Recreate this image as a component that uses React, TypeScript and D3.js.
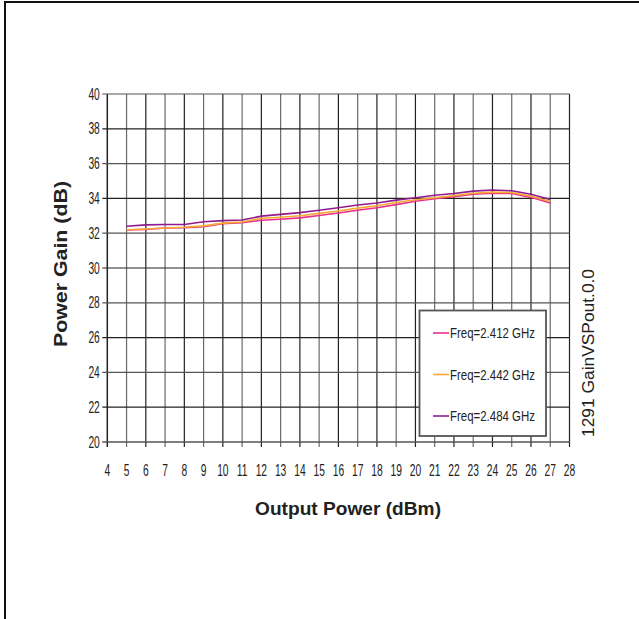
import React from "react";
import * as d3 from "d3";

const xValues = [5, 6, 7, 8, 9, 10, 11, 12, 13, 14, 15, 16, 17, 18, 19, 20, 21, 22, 23, 24, 25, 26, 27];
const gain2412 = [32.18, 32.22, 32.3, 32.32, 32.38, 32.55, 32.6, 32.74, 32.8, 32.88, 33.02, 33.16, 33.32, 33.46, 33.64, 33.84, 33.98, 34.1, 34.24, 34.3, 34.28, 34.06, 33.74];
const gain2442 = [32.2, 32.24, 32.3, 32.34, 32.42, 32.58, 32.64, 32.86, 32.92, 33.0, 33.14, 33.28, 33.44, 33.58, 33.76, 33.92, 34.04, 34.16, 34.3, 34.36, 34.34, 34.12, 33.84];
const gain2484 = [32.4, 32.48, 32.5, 32.5, 32.66, 32.72, 32.76, 32.98, 33.08, 33.18, 33.32, 33.46, 33.62, 33.74, 33.9, 34.04, 34.18, 34.28, 34.42, 34.48, 34.44, 34.24, 33.94];
const seriesNames = ["Freq=2.412 GHz", "Freq=2.442 GHz", "Freq=2.484 GHz"];
const seriesColors = ["#e8308c", "#f7a932", "#8e1c8e"];
const xTicks = d3.range(4, 29, 1);
const yTicks = d3.range(20, 41, 2);

export default function App() {
  const W = 639, H = 619;
  const left = 107.3, right = 569.5, top = 94, bottom = 442;
  const x = d3.scaleLinear().domain([4, 28]).range([left, right]);
  const y = d3.scaleLinear().domain([20, 40]).range([bottom, top]);
  const line = d3.line<[number, number]>().x(d => x(d[0])).y(d => y(d[1]));
  const all = [gain2412, gain2442, gain2484];
  const font = "'Liberation Sans', Arial, Helvetica, sans-serif";
  const legX = 419.5, legY = 310.5, legW = 126.5, legH = 125.5;
  const sx = 0.64;
  return (
    <svg width={W} height={H} style={{ position: "absolute", left: 0, top: 0 }}>
      <rect x={0} y={0} width={W} height={H} fill="#fff" />
      <rect x={5} y={2} width={W + 10} height={H + 10} fill="none" stroke="#111" strokeWidth={2} />
      {/* grid */}
      {xTicks.map((t, i) => (
        <line key={"gx" + t} x1={x(t)} x2={x(t)} y1={top} y2={bottom + 5}
          stroke={i % 2 === 0 ? "#222" : "#6a6a6a"} strokeWidth={i === 0 ? 1.5 : 1.2} />
      ))}
      {yTicks.map((t, i) => (
        <line key={"gy" + t} x1={left - 5} x2={right} y1={y(t)} y2={y(t)}
          stroke={i % 2 === 0 ? "#555" : "#222"} strokeWidth={i === 0 ? 1.6 : 1.2} />
      ))}
      {/* lines */}
      {all.map((vals, si) => (
        <path key={"s" + si}
          d={line(xValues.map((v, i) => [v, vals[i]] as [number, number])) || ""}
          fill="none" stroke={seriesColors[si]} strokeWidth={1.6} />
      ))}
      {/* tick labels */}
      {yTicks.map(t => (
        <text key={"yl" + t} transform={`translate(${left - 7.5},${y(t) + 5.6}) scale(${sx},1)`} textAnchor="end"
          fontFamily={font} fontSize={16} fill="#222">{t}</text>
      ))}
      {xTicks.map(t => (
        <text key={"xl" + t} transform={`translate(${x(t)},475.5) scale(${sx},1)`} textAnchor="middle"
          fontFamily={font} fontSize={16} fill="#222">{t}</text>
      ))}
      {/* legend */}
      <rect x={legX} y={legY} width={legW} height={legH} fill="#fff" stroke="#555" strokeWidth={1.8} />
      {seriesNames.map((n, i) => {
        const ly = 333 + i * 41.5;
        return (
          <g key={"lg" + i}>
            <line x1={433} x2={449} y1={ly} y2={ly} stroke={seriesColors[i]} strokeWidth={1.6} />
            <text x={450} y={ly + 5} fontFamily={font} fontSize={14} fill="#222"
              textLength={85} lengthAdjust="spacingAndGlyphs">{n}</text>
          </g>
        );
      })}
      {/* titles */}
      <text x={348} y={515} textAnchor="middle" fontFamily={font} fontWeight="bold" fontSize={18} fill="#222"
        textLength={186} lengthAdjust="spacingAndGlyphs">Output Power (dBm)</text>
      <text transform={`translate(67,264) rotate(-90)`} textAnchor="middle" fontFamily={font} fontWeight="bold" fontSize={18} fill="#222"
        textLength={166} lengthAdjust="spacingAndGlyphs">Power Gain (dB)</text>
      <text transform={`translate(594,353) rotate(-90)`} textAnchor="middle" fontFamily={font} fontSize={16} fill="#222"
        textLength={168} lengthAdjust="spacingAndGlyphs">1291 GainVSPout.0.0</text>
    </svg>
  );
}
